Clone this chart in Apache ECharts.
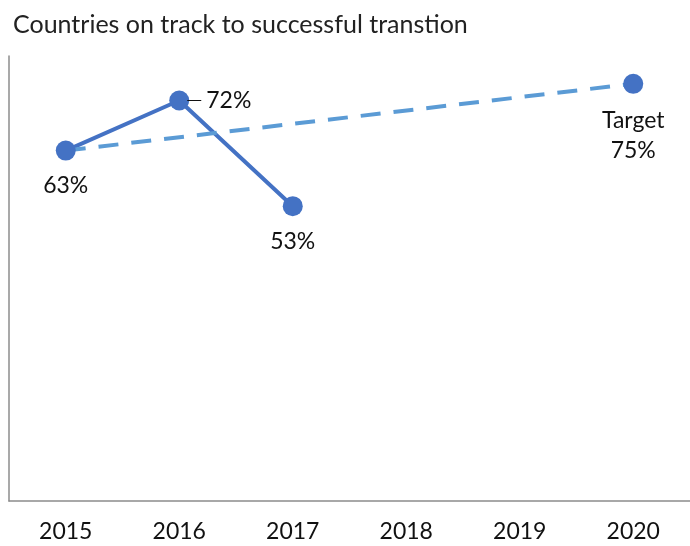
<!DOCTYPE html>
<html>
<head>
<meta charset="utf-8">
<script src="https://cdn.jsdelivr.net/npm/echarts@6/dist/echarts.min.js"></script>
<style>
  html, body { margin: 0; padding: 0; background: #fff; }
  #chart { width: 690px; height: 546px; }
</style>
</head>
<body>
<div id="chart"></div>
<script>
// 数据
const years = ['2015', '2016', '2017', '2018', '2019', '2020'];
const actual = [63, 72, 53, null, null, null];
const target = [63, null, null, null, null, 75];

const FONT = 'Lato, "Open Sans", sans-serif';

const chart = echarts.init(document.getElementById('chart'));

const option = {
  animation: false,
  title: {
    text: 'Countries on track to successful transtion',
    left: 8,
    top: 7,
    textStyle: { fontFamily: FONT, fontSize: 25, fontWeight: 'normal', color: '#222' }
  },
  grid: { left: 9, top: 56, width: 688, bottom: 45 },
  xAxis: {
    type: 'category',
    data: years,
    axisLine: { lineStyle: { color: '#8c8c8c', width: 1.5 } },
    axisTick: { show: false },
    axisLabel: { margin: 19, fontFamily: FONT, fontSize: 23, color: '#111' }
  },
  yAxis: {
    type: 'value',
    min: 0,
    max: 80,
    axisLine: { show: true, lineStyle: { color: '#8c8c8c', width: 1.5 } },
    axisTick: { show: false },
    axisLabel: { show: false },
    splitLine: { show: false }
  },
  series: [
    {
      type: 'line',
      symbol: 'circle',
      symbolSize: 20,
      itemStyle: { color: '#4472C4' },
      lineStyle: { color: '#4472C4', width: 4 },
      label: {
        show: true,
        fontFamily: FONT,
        fontSize: 23,
        color: '#111',
        position: 'bottom',
        distance: 14,
        formatter: p => p.value + '%'
      },
      // 72% 的标签带一段引线
      data: actual.map((v, i) => i === 1
        ? { value: v, label: { position: 'right', distance: -2, formatter: '{ln|}{v|' + v + '%}',
            rich: { ln: { width: 14, height: 1, backgroundColor: '#111' },
                    v: { fontFamily: FONT, fontSize: 23, color: '#111', padding: [0, 0, 0, 5] } } } }
        : v)
    },
    {
      type: 'line',
      data: target.map((v, i) => i === 5
        ? { value: v, symbol: 'circle', symbolSize: 20, itemStyle: { color: '#4472C4' },
            label: { show: true, position: 'bottom', distance: 12, lineHeight: 30,
              fontFamily: FONT, fontSize: 23, color: '#111', formatter: 'Target\n' + v + '%' } }
        : v),
      connectNulls: true,
      symbol: 'none',
      lineStyle: { color: '#5B9BD5', width: 4, type: [20, 13] },
      z: 3
    }
  ]
};

chart.setOption(option);
</script>
</body>
</html>
